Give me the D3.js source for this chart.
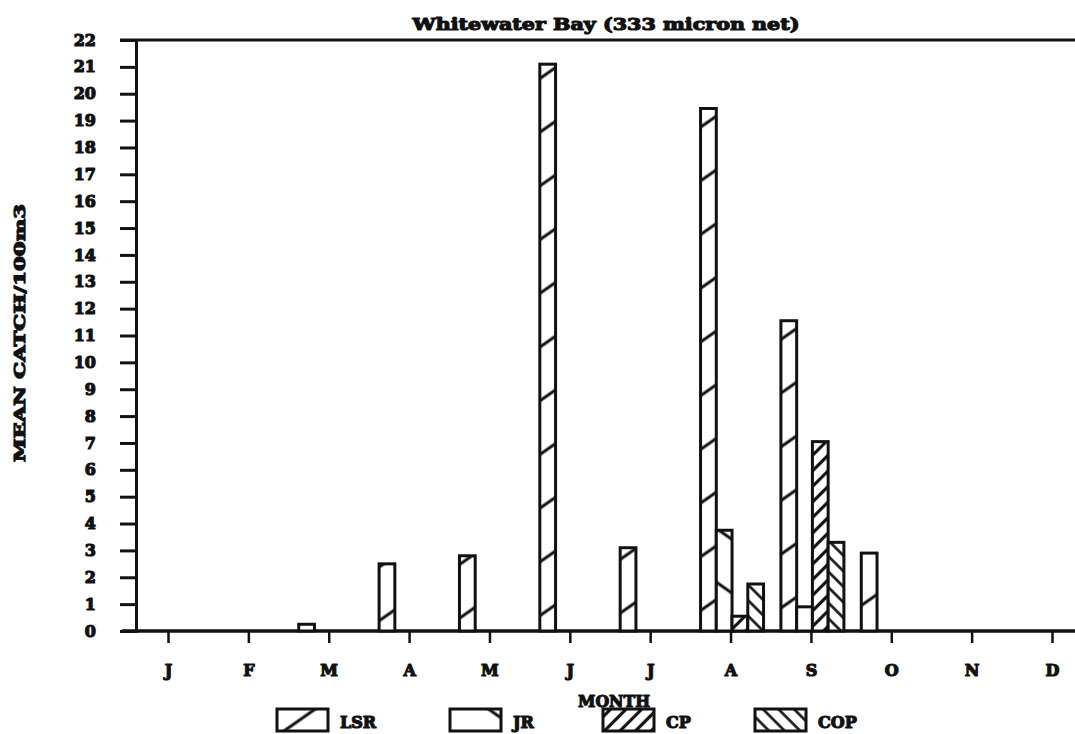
<!DOCTYPE html>
<html>
<head>
<meta charset="utf-8">
<script src="https://cdn.jsdelivr.net/npm/d3@7"></script>
<style>
  body { margin: 0; background: #fff; }
  text { font-family: "DejaVu Serif", serif; font-weight: bold; fill: #111; stroke: #111; stroke-width: 1.2px; stroke-linejoin: round; }
</style>
</head>
<body>
<div id="container"></div>
<script>
// Data
var monthLabels = ["J", "F", "M", "A", "M", "J", "J", "A", "S", "O", "N", "D"];
var seriesNames = ["LSR", "JR", "CP", "COP"];
var lsrValues = [0, 0, 0.25, 2.5, 2.8, 21.1, 3.1, 19.45, 11.55, 2.9, 0, 0];
var jrValues  = [0, 0, 0, 0, 0, 0, 0, 3.75, 0.9, 0, 0, 0];
var cpValues  = [0, 0, 0, 0, 0, 0, 0, 0.55, 7.05, 0, 0, 0];
var copValues = [0, 0, 0, 0, 0, 0, 0, 1.75, 3.3, 0, 0, 0];
var yTicks = d3.range(0, 23);

var seriesValues = [lsrValues, jrValues, cpValues, copValues];

var width = 1075, height = 734;
var plotTop = 40, plotBottom = 631, plotLeft = 136;

var svg = d3.select("#container")
  .append("svg")
  .attr("width", width)
  .attr("height", height);

// hatch patterns: [angle, spacing, line width]
var hatch = {
  LSR: [-35, 44, 3],
  JR:  [35, 44, 3],
  CP:  [-45, 11, 3.2],
  COP: [45, 11, 2.6]
};
var defs = svg.append("defs");
seriesNames.forEach(function (name) {
  var h = hatch[name];
  var p = defs.append("pattern")
    .attr("id", "pat-" + name)
    .attr("patternUnits", "userSpaceOnUse")
    .attr("width", 20)
    .attr("height", h[1])
    .attr("patternTransform", "rotate(" + h[0] + ")");
  p.append("rect").attr("width", 20).attr("height", h[1]).attr("fill", "#fff");
  p.append("line")
    .attr("x1", 0).attr("x2", 20)
    .attr("y1", h[1] / 2).attr("y2", h[1] / 2)
    .attr("stroke", "#111")
    .attr("stroke-width", h[2]);
});

// scales
var y = d3.scaleLinear().domain([0, 22]).range([plotBottom, plotTop]);
var xMonth = d3.scalePoint().domain(d3.range(12)).range([168, 1052]);
var xSeries = d3.scaleBand().domain(seriesNames).range([0, 63]);

// title
svg.append("text")
  .attr("x", 606)
  .attr("y", 30)
  .attr("text-anchor", "middle")
  .attr("font-size", 17)
  .attr("textLength", 387)
  .attr("lengthAdjust", "spacingAndGlyphs")
  .text("Whitewater Bay (333 micron net)");

// y axis
var yAxis = svg.append("g")
  .attr("transform", "translate(" + plotLeft + ",0)")
  .call(d3.axisLeft(y).tickValues(yTicks).tickSize(16).tickPadding(24));
yAxis.select(".domain").attr("stroke", "#111").attr("stroke-width", 3);
yAxis.selectAll(".tick line").attr("stroke", "#111").attr("stroke-width", 3);
yAxis.selectAll(".tick text")
  .attr("font-size", 16)
  .attr("font-family", null);

// x axis
var xAxis = svg.append("g")
  .attr("transform", "translate(0," + plotBottom + ")")
  .call(d3.axisBottom(xMonth).tickSize(12).tickPadding(22)
    .tickFormat(function (i) { return monthLabels[i]; }));
xAxis.select(".domain").remove();
xAxis.selectAll(".tick line").attr("stroke", "#111").attr("stroke-width", 2.5);
xAxis.selectAll(".tick text")
  .attr("font-size", 16)
  .attr("font-family", null);

// frame lines: top and baseline
svg.append("line")
  .attr("x1", 120).attr("x2", width)
  .attr("y1", y(22)).attr("y2", y(22))
  .attr("stroke", "#111").attr("stroke-width", 3);
svg.append("line")
  .attr("x1", 122).attr("x2", width)
  .attr("y1", y(0)).attr("y2", y(0))
  .attr("stroke", "#111").attr("stroke-width", 3.5);

// bars
seriesNames.forEach(function (name, s) {
  var vals = seriesValues[s].map(function (v, i) { return {month: i, value: v}; })
    .filter(function (d) { return d.value > 0; });
  svg.selectAll("rect.bar-" + name)
    .data(vals)
    .enter()
    .append("rect")
    .attr("class", "bar-" + name)
    .attr("x", function (d) { return xMonth(d.month) - 30 + xSeries(name); })
    .attr("y", function (d) { return y(d.value); })
    .attr("width", xSeries.bandwidth())
    .attr("height", function (d) { return y(0) - y(d.value); })
    .attr("fill", "url(#pat-" + name + ")")
    .attr("stroke", "#111")
    .attr("stroke-width", 3);
});

// axis titles
svg.append("text")
  .attr("transform", "translate(25,333) rotate(-90)")
  .attr("text-anchor", "middle")
  .attr("font-size", 15)
  .attr("textLength", 258)
  .attr("lengthAdjust", "spacingAndGlyphs")
  .text("MEAN CATCH/100m3");

// legend
var legendX = [277, 450, 603, 755];
var legend = svg.selectAll("g.legend")
  .data(seriesNames)
  .enter()
  .append("g")
  .attr("class", "legend")
  .attr("transform", function (d, i) { return "translate(" + legendX[i] + ",709)"; });
legend.append("rect")
  .attr("width", 51)
  .attr("height", 22)
  .attr("fill", function (d) { return "url(#pat-" + d + ")"; })
  .attr("stroke", "#111")
  .attr("stroke-width", 3);
legend.append("text")
  .attr("x", 63)
  .attr("y", 19)
  .attr("font-size", 16)
  .text(function (d) { return d; });

svg.append("text")
  .attr("x", 614)
  .attr("y", 707)
  .attr("text-anchor", "middle")
  .attr("font-size", 17)
  .attr("textLength", 72)
  .attr("lengthAdjust", "spacingAndGlyphs")
  .text("MONTH");
</script>
</body>
</html>
